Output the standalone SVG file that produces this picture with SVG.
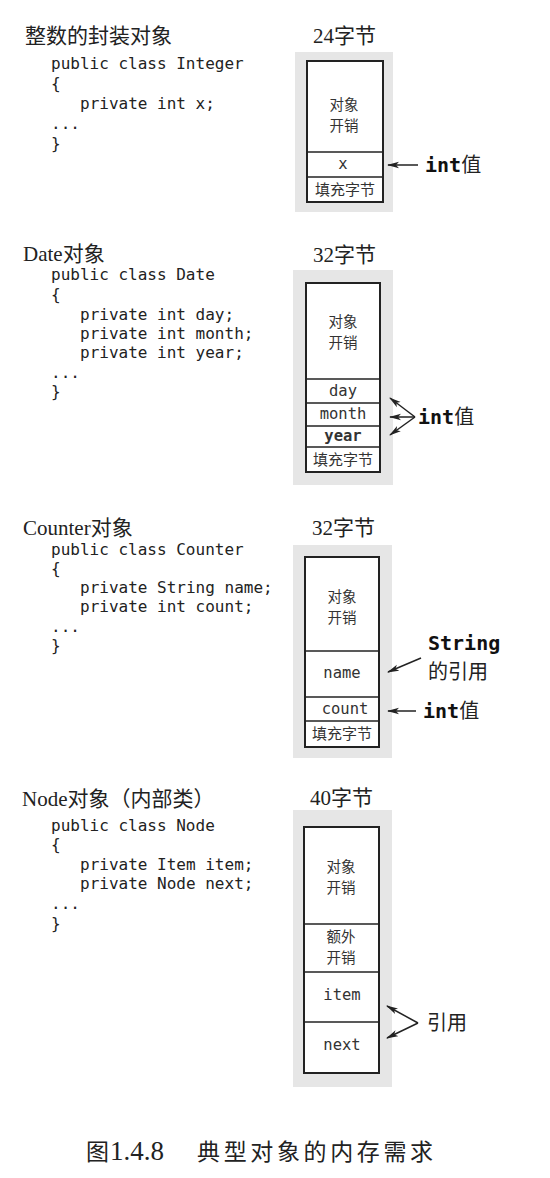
<svg xmlns="http://www.w3.org/2000/svg" width="550" height="1178" viewBox="0 0 550 1178">
<style>
.title{font-family:"Liberation Serif","Noto Sans CJK SC",serif;font-size:21px;fill:#222}
.code{font-family:"DejaVu Sans Mono","Liberation Mono",monospace;font-size:16px;fill:#222}
.bg{fill:#e6e6e6}
.box{fill:#fff;stroke:#222;stroke-width:2}
.div{stroke:#222;stroke-width:1.6}
.cjk{font-family:"Noto Sans CJK SC",sans-serif;font-size:14.5px;fill:#333;text-anchor:middle}
.pad{font-family:"Noto Sans CJK SC",sans-serif;font-size:15px;fill:#333;text-anchor:middle}
.fld{font-family:"DejaVu Sans Mono","Liberation Mono",monospace;font-size:15.5px;fill:#333;text-anchor:middle}
.lbl{font-family:"DejaVu Sans Mono","Noto Sans CJK SC",monospace;font-size:20px;fill:#111}
.lblc{font-family:"Noto Sans CJK SC",sans-serif;font-size:20px;fill:#222}
.arr{stroke:#222;stroke-width:1.5;fill:none;marker-end:url(#ah)}
.cap{font-family:"Liberation Serif","Noto Sans CJK SC",serif;font-size:23px;fill:#222}
</style>
<defs>
<marker id="ah" viewBox="0 0 12 8" refX="11" refY="4" markerWidth="12" markerHeight="8" markerUnits="userSpaceOnUse" orient="auto">
<path d="M0,0.8 L12,4 L0,7.2 L3,4 z" fill="#222"/>
</marker>
</defs>
<rect width="550" height="1178" fill="#fff"/>

<!-- Section 1 -->
<g id="integer-code">
<text class="title" x="25" y="43">整数的封装对象</text>
<text class="code" x="51" y="69">public class Integer</text>
<text class="code" x="51" y="89">{</text>
<text class="code" x="80" y="109">private int x;</text>
<text class="code" x="51" y="129">...</text>
<text class="code" x="51" y="149">}</text>
</g>
<g id="integer-box">
<text class="title" x="313" y="43">24字节</text>
<rect class="bg" x="295" y="52" width="98" height="160"/>
<rect class="box" x="307" y="61" width="76" height="141"/>
<line class="div" x1="307" y1="152" x2="383" y2="152"/>
<line class="div" x1="307" y1="177" x2="383" y2="177"/>
<text class="cjk" x="344" y="110">对象</text>
<text class="cjk" x="344" y="131">开销</text>
<text class="fld" x="343" y="169">x</text>
<text class="pad" x="345" y="195">填充字节</text>
</g>
<g id="integer-label">
<text x="425" y="172"><tspan class="lbl" font-weight="bold">int</tspan><tspan class="lblc">值</tspan></text>
</g>

<!-- Section 2 -->
<g id="date-code">
<text class="title" x="23" y="261">Date对象</text>
<text class="code" x="51" y="280">public class Date</text>
<text class="code" x="51" y="300">{</text>
<text class="code" x="80" y="320">private int day;</text>
<text class="code" x="80" y="339">private int month;</text>
<text class="code" x="80" y="358">private int year;</text>
<text class="code" x="51" y="378">...</text>
<text class="code" x="51" y="397">}</text>
</g>
<g id="date-box">
<text class="title" x="313" y="262">32字节</text>
<rect class="bg" x="293" y="270" width="100" height="215"/>
<rect class="box" x="306" y="283" width="74" height="189"/>
<line class="div" x1="306" y1="379" x2="380" y2="379"/>
<line class="div" x1="306" y1="403" x2="380" y2="403"/>
<line class="div" x1="306" y1="426" x2="380" y2="426"/>
<line class="div" x1="306" y1="447" x2="380" y2="447"/>
<text class="cjk" x="343" y="327">对象</text>
<text class="cjk" x="343" y="348">开销</text>
<text class="fld" x="343" y="396">day</text>
<text class="fld" x="343" y="419">month</text>
<text class="fld" x="343" y="441" font-weight="bold">year</text>
<text class="pad" x="343" y="465">填充字节</text>
</g>
<g id="date-label">
<text x="418" y="424"><tspan class="lbl" font-weight="bold">int</tspan><tspan class="lblc">值</tspan></text>
</g>

<!-- Section 3 -->
<g id="counter-code">
<text class="title" x="23" y="535">Counter对象</text>
<text class="code" x="51" y="555">public class Counter</text>
<text class="code" x="51" y="574">{</text>
<text class="code" x="80" y="593">private String name;</text>
<text class="code" x="80" y="612">private int count;</text>
<text class="code" x="51" y="632">...</text>
<text class="code" x="51" y="651">}</text>
</g>
<g id="counter-box">
<text class="title" x="312" y="535">32字节</text>
<rect class="bg" x="293" y="545" width="99" height="213"/>
<rect class="box" x="305" y="557" width="74" height="190"/>
<line class="div" x1="305" y1="651" x2="379" y2="651"/>
<line class="div" x1="305" y1="697" x2="379" y2="697"/>
<line class="div" x1="305" y1="721" x2="379" y2="721"/>
<text class="cjk" x="342" y="602">对象</text>
<text class="cjk" x="342" y="623">开销</text>
<text class="fld" x="342" y="678">name</text>
<text class="fld" x="345" y="714">count</text>
<text class="pad" x="342" y="739">填充字节</text>
</g>
<g id="counter-labels">
<text class="lbl" x="428" y="650" font-weight="bold">String</text>
<text class="lblc" x="428" y="679">的引用</text>
<text x="423" y="718"><tspan class="lbl" font-weight="bold">int</tspan><tspan class="lblc">值</tspan></text>
</g>

<!-- Section 4 -->
<g id="node-code">
<text class="title" x="22" y="806">Node对象（内部类）</text>
<text class="code" x="51" y="831">public class Node</text>
<text class="code" x="51" y="850">{</text>
<text class="code" x="80" y="870">private Item item;</text>
<text class="code" x="80" y="889">private Node next;</text>
<text class="code" x="51" y="909">...</text>
<text class="code" x="51" y="929">}</text>
</g>
<g id="node-box">
<text class="title" x="310" y="805">40字节</text>
<rect class="bg" x="293" y="810" width="99" height="277"/>
<rect class="box" x="304" y="827" width="75" height="246"/>
<line class="div" x1="304" y1="924" x2="379" y2="924"/>
<line class="div" x1="304" y1="972" x2="379" y2="972"/>
<line class="div" x1="304" y1="1022" x2="379" y2="1022"/>
<text class="cjk" x="341" y="872">对象</text>
<text class="cjk" x="341" y="893">开销</text>
<text class="cjk" x="341" y="942">额外</text>
<text class="cjk" x="341" y="963">开销</text>
<text class="fld" x="342" y="1000">item</text>
<text class="fld" x="342" y="1050">next</text>
</g>
<g id="node-label">
<text class="lblc" x="427" y="1030">引用</text>
</g>

<g id="connectors">
<line class="arr" x1="418" y1="165" x2="388" y2="165"/>
<line class="arr" x1="415" y1="417" x2="390" y2="398"/>
<line class="arr" x1="415" y1="417" x2="390" y2="417"/>
<line class="arr" x1="415" y1="417" x2="390" y2="435"/>
<line class="arr" x1="421" y1="658" x2="388" y2="672"/>
<line class="arr" x1="416" y1="711" x2="388" y2="711"/>
<line class="arr" x1="418" y1="1023" x2="387" y2="1006"/>
<line class="arr" x1="418" y1="1023" x2="387" y2="1038"/>
</g>

<g id="caption">
<text class="cap" x="86" y="1160">图<tspan x="110" font-size="27">1.4.8</tspan><tspan x="197" textLength="236">典型对象的内存需求</tspan></text>
</g>
</svg>
